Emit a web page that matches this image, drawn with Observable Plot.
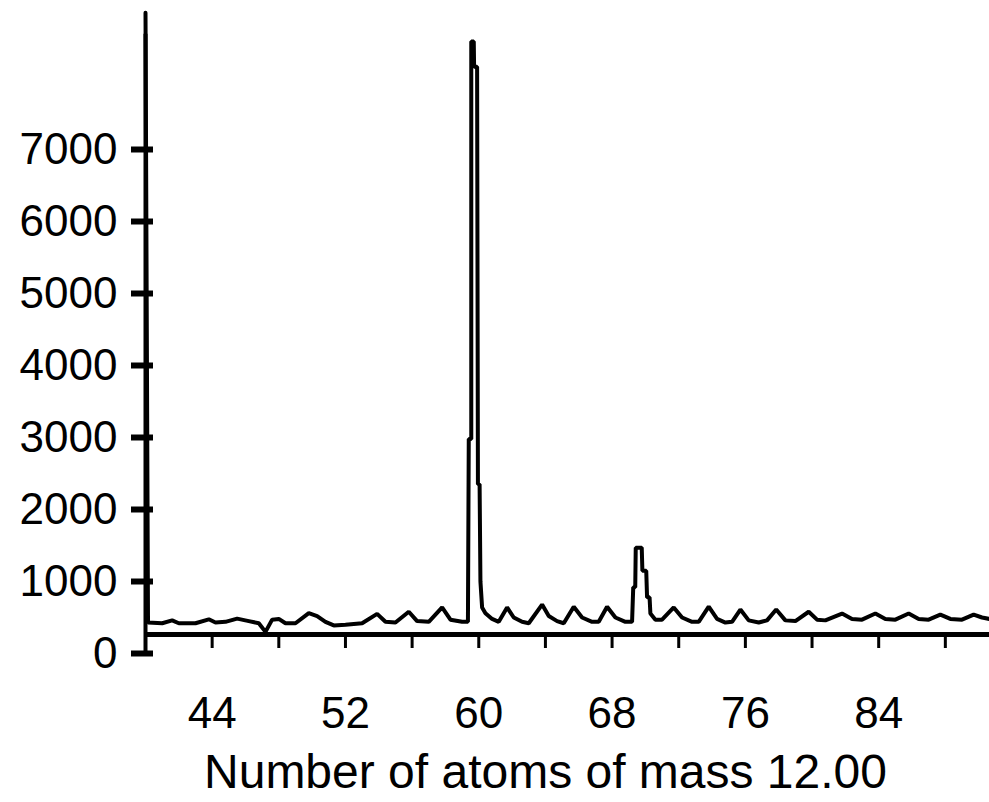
<!DOCTYPE html>
<html>
<head>
<meta charset="utf-8">
<script src="https://cdn.jsdelivr.net/npm/d3@7"></script>
<script src="https://cdn.jsdelivr.net/npm/@observablehq/plot@0.6"></script>
<style>
  html, body { margin: 0; padding: 0; background: #fff; }
  #chart svg { display: block; }
</style>
</head>
<body>
<div id="chart"></div>
<script>
// Mass spectrum: number of atoms of mass 12.00 (x) vs. signal (y)
const mass = [
  40.0, 40.15, 41.0, 41.6, 42.0, 43.0, 43.8, 44.2, 44.8, 45.5, 46.2, 46.8, 47.2, 47.6, 48.0, 48.4,
  49.0, 49.8, 50.3, 50.8, 51.3, 52.0, 53.0, 53.9, 54.4, 55.0, 55.8, 56.3, 57.0, 57.8, 58.3, 59.0,
  59.35, 59.4, 59.55, 59.55, 59.7, 59.72, 59.9, 59.95, 60.05, 60.1, 60.2, 60.4, 60.8, 61.2,
  61.7, 62.1, 62.6, 63.0, 63.8, 64.2, 64.7, 65.1, 65.7, 66.2, 66.8, 67.2, 67.7, 68.2, 68.8, 69.2,
  69.27, 69.39, 69.42, 69.78, 69.82, 70.05, 70.1, 70.25, 70.3, 70.6,
  71.0, 71.7, 72.2, 72.8, 73.2, 73.8, 74.3, 74.8, 75.2, 75.7, 76.2, 76.8, 77.3, 77.85, 78.4, 79.0,
  79.8, 80.3, 80.8, 81.8, 82.4, 83.0, 83.8, 84.4, 85.0, 85.8, 86.4, 87.0, 87.7, 88.3, 89.0, 89.7,
  90.2, 90.65
];
const intensity = [
  8900, 430, 420, 460, 420, 420, 475, 430, 440, 485, 450, 420, 300, 470, 480, 420,
  420, 560, 520, 440, 390, 400, 420, 550, 440, 430, 580, 450, 440, 640, 470, 440,
  440, 2980, 2980, 8500, 8500, 8150, 8150, 2350, 2350, 1000, 640, 560, 480, 440,
  640, 500, 440, 420, 680, 520, 450, 420, 650, 500, 440, 440, 650, 500, 440, 440,
  920, 920, 1470, 1470, 1150, 1150, 780, 780, 555, 470,
  470, 640, 500, 440, 440, 650, 480, 430, 440, 610, 460, 430, 460, 610, 460, 450,
  580, 470, 460, 555, 480, 470, 555, 480, 470, 555, 480, 470, 540, 480, 470, 540,
  500, 480
];
const yTicks = [0, 1000, 2000, 3000, 4000, 5000, 6000, 7000];
const xTicks = [44, 48, 52, 56, 60, 64, 68, 72, 76, 80, 84, 88];
const xTickLabels = [44, 52, 60, 68, 76, 84];
const xAxisLevel = 264;      // level of the lower baseline / x-axis line
const yAxisTop = 8600;
const xLabel = "Number of atoms of mass 12.00";

const spectrum = mass.map((m, i) => ({mass: m, signal: intensity[i]}));

const W = 989, H = 802, mL = 145, mR = 0, mT = 5, mB = 149;
const xDomain = [40, 90.65];
const pxPerUnit = (W - mL - mR) / (xDomain[1] - xDomain[0]);
const tickOut = 14, tickIn = 8;   // pixel lengths of the y-tick crosses

const font = "'Liberation Sans', Arial, Helvetica, sans-serif";

const chart = Plot.plot({
  width: W,
  height: H,
  marginLeft: mL,
  marginRight: mR,
  marginTop: mT,
  marginBottom: mB,
  x: {domain: xDomain},
  y: {domain: [0, 9000]},
  style: {fontFamily: font, background: "#fff", color: "#000"},
  marks: [
    Plot.ruleY([xAxisLevel], {stroke: "#000", strokeWidth: 5}),
    Plot.ruleX([xDomain[0]], {y1: 0, y2: yAxisTop, stroke: "#000", strokeWidth: 4}),
    Plot.ruleY(yTicks, {
      y: d => d,
      x1: xDomain[0] - tickOut / pxPerUnit,
      x2: xDomain[0] + tickIn / pxPerUnit,
      stroke: "#000", strokeWidth: 6
    }),
    Plot.axisY({ticks: yTicks, label: null, tickSize: 0, tickPadding: 28, fontSize: 44, tickFormat: d => String(d)}),
    Plot.axisX({ticks: xTicks, label: null, tickSize: 13, dy: -18, strokeWidth: 3, tickFormat: () => ""}),
    Plot.axisX({ticks: xTickLabels, label: null, tickSize: 0, tickPadding: 43, fontSize: 44, tickFormat: d => String(d)}),
    Plot.line(spectrum, {x: "mass", y: "signal", stroke: "#000", strokeWidth: 4, strokeLinejoin: "miter"}),
    Plot.text([xLabel], {frameAnchor: "bottom", dx: -22, dy: 119, fontSize: 48, fill: "#000", lineAnchor: "middle"})
  ]
});
document.getElementById("chart").appendChild(chart);
</script>
</body>
</html>
